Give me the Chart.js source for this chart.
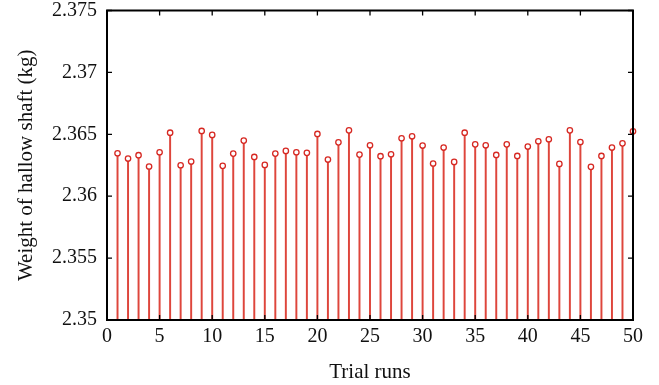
<!DOCTYPE html>
<html>
<head>
<meta charset="utf-8">
<script src="https://cdn.jsdelivr.net/npm/chart.js@4.4.1/dist/chart.umd.min.js"></script>
<style>
  html, body { margin: 0; padding: 0; background: #ffffff; }
  #wrap { width: 659px; height: 385px; position: relative; }
</style>
</head>
<body>
<div id="wrap"><canvas id="c" width="659" height="385"></canvas></div>
<script>
// ---- data ----
const trialRuns = [1,2,3,4,5,6,7,8,9,10,11,12,13,14,15,16,17,18,19,20,21,22,23,24,25,
                   26,27,28,29,30,31,32,33,34,35,36,37,38,39,40,41,42,43,44,45,46,47,48,49,50];
const shaftWeights = [
  2.36347, 2.36304, 2.36331, 2.36240, 2.36355, 2.36513, 2.36250, 2.36280, 2.36527, 2.36495,
  2.36245, 2.36344, 2.36449, 2.36317, 2.36253, 2.36344, 2.36366, 2.36355, 2.36350, 2.36503,
  2.36296, 2.36435, 2.36532, 2.36336, 2.36411, 2.36323, 2.36339, 2.36468, 2.36484, 2.36409,
  2.36264, 2.36393, 2.36277, 2.36513, 2.36419, 2.36411, 2.36333, 2.36419, 2.36325, 2.36401,
  2.36444, 2.36460, 2.36261, 2.36532, 2.36438, 2.36237, 2.36325, 2.36393, 2.36427, 2.36524
];
const xTickValues = [0, 5, 10, 15, 20, 25, 30, 35, 40, 45, 50];
const yTickValues = [2.35, 2.355, 2.36, 2.365, 2.37, 2.375];
const yTickLabels = ['2.35', '2.355', '2.36', '2.365', '2.37', '2.375'];
const xTitle = 'Trial runs';
const yTitle = 'Weight of hallow shaft (kg)';

const points = trialRuns.map((x, i) => ({ x: x, y: shaftWeights[i] }));
const RED = 'rgb(214,40,34)';
const STEM = 'rgb(222,70,60)';
const FONT = "'Liberation Serif', 'DejaVu Serif', serif";

const framePlugin = {
  id: 'frame',
  afterDatasetsDraw(chart) {
    const ctx = chart.ctx, a = chart.chartArea;
    const xs = chart.scales.x, ys = chart.scales.y;
    ctx.save();
    ctx.strokeStyle = '#000';
    ctx.lineWidth = 1.3;
    const tl = 5;
    ctx.beginPath();
    xTickValues.forEach(v => {
      const px = xs.getPixelForValue(v);
      ctx.moveTo(px, a.bottom); ctx.lineTo(px, a.bottom - tl);
      ctx.moveTo(px, a.top); ctx.lineTo(px, a.top + tl);
    });
    yTickValues.forEach(v => {
      const py = ys.getPixelForValue(v);
      ctx.moveTo(a.left, py); ctx.lineTo(a.left + tl, py);
      ctx.moveTo(a.right, py); ctx.lineTo(a.right - tl, py);
    });
    ctx.stroke();
    ctx.lineWidth = 2;
    ctx.strokeRect(a.left, a.top, a.right - a.left, a.bottom - a.top);
    ctx.restore();
  }
};

new Chart(document.getElementById('c'), {
  type: 'bar',
  data: {
    datasets: [
      {
        type: 'line',
        data: points,
        showLine: false,
        pointRadius: 2.7,
        pointBorderWidth: 1.3,
        pointBorderColor: RED,
        pointBackgroundColor: '#ffffff',
        clip: false,
        order: 0
      },
      {
        type: 'bar',
        data: points,
        backgroundColor: STEM,
        borderWidth: 0,
        barThickness: 1.3,
        order: 1
      }
    ]
  },
  plugins: [framePlugin],
  options: {
    responsive: false,
    animation: false,
    devicePixelRatio: 1,
    layout: { padding: { top: 0, right: 26, left: 0, bottom: 0 } },
    plugins: { legend: { display: false }, tooltip: { enabled: false } },
    scales: {
      x: {
        type: 'linear',
        min: 0, max: 50,
        offset: false,
        grid: { display: false, drawTicks: false },
        border: { display: false },
        afterBuildTicks: s => { s.ticks = xTickValues.map(v => ({ value: v })); },
        afterFit: s => { s.height = 65; },
        ticks: {
          font: { family: FONT, size: 20 },
          color: '#111',
          padding: 5,
          maxRotation: 0,
          callback: v => String(v)
        },
        title: {
          display: true, text: xTitle,
          font: { family: FONT, size: 21 }, color: '#111',
          padding: { top: 3, bottom: 0 }
        }
      },
      y: {
        type: 'linear',
        min: 2.35, max: 2.375,
        grid: { display: false, drawTicks: false },
        border: { display: false },
        afterBuildTicks: s => { s.ticks = yTickValues.map(v => ({ value: v })); },
        afterFit: s => { s.width = 107; s.paddingTop = 10.5; s.paddingBottom = 0; },
        ticks: {
          font: { family: FONT, size: 20, lineHeight: 1.05 },
          color: '#111',
          padding: 10,
          callback: (v) => {
            const i = yTickValues.findIndex(t => Math.abs(t - v) < 1e-9);
            return i >= 0 ? yTickLabels[i] : '';
          }
        },
        title: {
          display: true, text: yTitle,
          font: { family: FONT, size: 21 }, color: '#111',
          padding: { top: 14, bottom: 0 }
        }
      }
    }
  }
});
</script>
</body>
</html>
